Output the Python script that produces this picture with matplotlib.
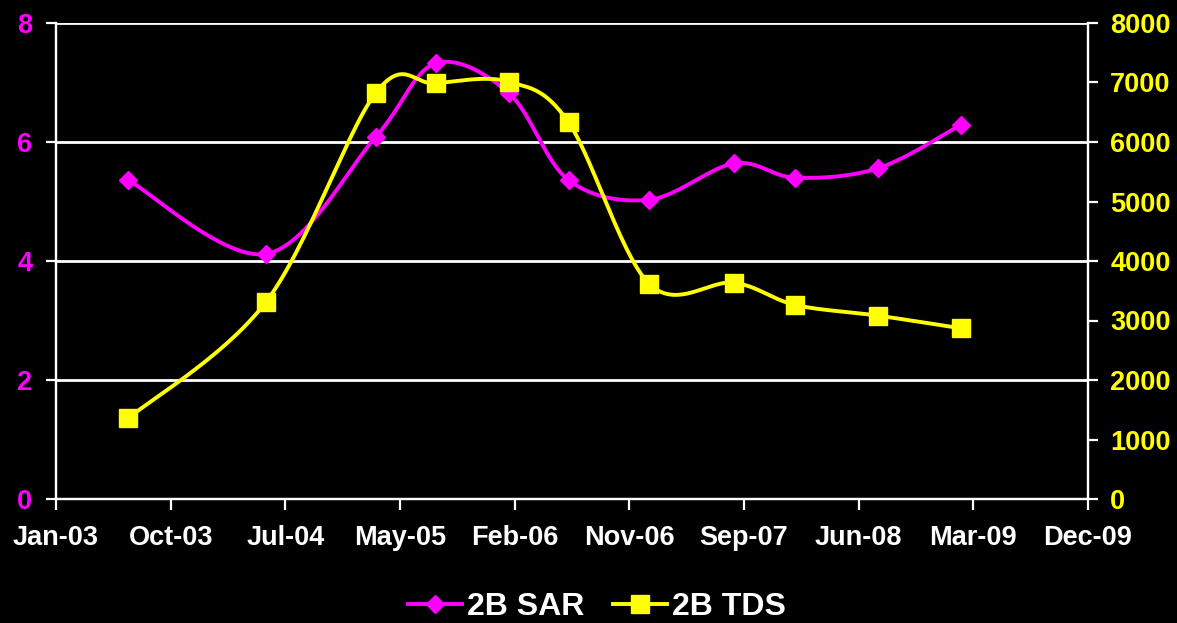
import datetime as dt
import numpy as np
import matplotlib
matplotlib.use("Agg")
import matplotlib.pyplot as plt
import matplotlib.dates as mdates

# ---- data ----
sample_dates = ["2003-06-27", "2004-05-30", "2005-02-23", "2005-07-19", "2006-01-15",
                "2006-06-10", "2006-12-25", "2007-07-21", "2007-12-18", "2008-07-08",
                "2009-01-27"]
sar_values = [5.36, 4.12, 6.09, 7.32, 6.82, 5.36, 5.03, 5.64, 5.40, 5.56, 6.29]
tds_values = [1356, 3316, 6829, 6987, 7013, 6331, 3613, 3635, 3261, 3081, 2869]
x_tick_labels = ["Jan-03", "Oct-03", "Jul-04", "May-05", "Feb-06", "Nov-06",
                 "Sep-07", "Jun-08", "Mar-09", "Dec-09"]
left_ticks = [0, 2, 4, 6, 8]
right_ticks = [0, 1000, 2000, 3000, 4000, 5000, 6000, 7000, 8000]
series_names = ["2B SAR", "2B TDS"]

MAG = "#FF00FF"
YEL = "#FFFF00"
FONT = "Liberation Sans"

x_num = mdates.date2num([dt.datetime.strptime(d, "%Y-%m-%d") for d in sample_dates])
start = mdates.date2num(dt.datetime(2003, 1, 1))
step = 281.0
tick_pos = [start + step * i for i in range(len(x_tick_labels))]


def smooth(x, y, n=30):
    """Excel-like smoothed line: cubic Bezier through points (Catmull-Rom control points)."""
    x = np.asarray(x, float)
    y = np.asarray(y, float)
    P = np.column_stack([x, y])
    out = [P[0]]
    t = np.linspace(0, 1, n)[1:]
    for i in range(len(P) - 1):
        p0 = P[i - 1] if i > 0 else P[i]
        p1 = P[i]
        p2 = P[i + 1]
        p3 = P[i + 2] if i + 2 < len(P) else P[i + 1]
        c1 = p1 + (p2 - p0) / 6.0
        c2 = p2 - (p3 - p1) / 6.0
        seg = ((1 - t) ** 3)[:, None] * p1 + (3 * (1 - t) ** 2 * t)[:, None] * c1 + \
              (3 * (1 - t) * t ** 2)[:, None] * c2 + (t ** 3)[:, None] * p2
        out.extend(seg)
    out = np.array(out)
    return out[:, 0], out[:, 1]


fig = plt.figure(figsize=(11.77, 6.23), dpi=100, facecolor="black")
ax1 = fig.add_axes([56 / 1177, 1 - 499 / 623, (1088 - 56) / 1177, (499 - 23) / 623])
ax1.set_facecolor("black")
ax2 = ax1.twinx()

# SAR
sx, sy = smooth(x_num, sar_values)
ax1.plot(sx, sy, color=MAG, lw=2.8, solid_capstyle="round", zorder=3)
ax1.plot(x_num, sar_values, ls="none", marker="D", ms=9, color=MAG, zorder=4)

# TDS
tx, ty = smooth(x_num, tds_values)
ax2.plot(tx, ty, color=YEL, lw=2.8, solid_capstyle="round", zorder=3)
ax2.plot(x_num, tds_values, ls="none", marker="s", ms=13, color=YEL, zorder=4)

ax1.set_xlim(tick_pos[0], tick_pos[-1])
ax1.set_ylim(0, 8)
ax2.set_ylim(0, 8000)

ax1.set_xticks(tick_pos)
ax1.set_xticklabels(x_tick_labels)
ax1.set_yticks(left_ticks)
ax1.set_yticklabels([str(v) for v in left_ticks])
ax2.set_yticks(right_ticks)
ax2.set_yticklabels([str(v) for v in right_ticks])

ax1.grid(axis="y", color="white", lw=2)
ax1.set_axisbelow(True)

for ax in (ax1, ax2):
    ax.spines["top"].set_visible(False)
    for side in ("left", "right", "bottom"):
        ax.spines[side].set_color("white")
        ax.spines[side].set_linewidth(1.6)

ax1.tick_params(axis="x", colors="white", length=8, width=1.6, pad=11,
                labelsize=19.5)
ax1.tick_params(axis="y", colors="white", length=7, width=1.6, pad=10,
                labelsize=19.5, labelcolor=MAG)
ax2.tick_params(axis="y", colors="white", length=7, width=1.6, pad=9,
                labelsize=19.5, labelcolor=YEL)
for lab in ax1.get_xticklabels() + ax1.get_yticklabels() + ax2.get_yticklabels():
    lab.set_fontfamily(FONT)
    lab.set_fontweight("bold")
for lab in ax1.get_xticklabels():
    lab.set_color("white")

# legend
h1 = plt.Line2D([], [], color=MAG, lw=2.8, marker="D", ms=9)
h2 = plt.Line2D([], [], color=YEL, lw=2.8, marker="s", ms=13)
leg = fig.legend([h1, h2], series_names, loc="center",
                 bbox_to_anchor=(597 / 1177, 1 - 607 / 623), ncol=2, frameon=False,
                 prop={"family": FONT, "weight": "bold", "size": 23},
                 handlelength=1.7, handletextpad=0.15, columnspacing=0.9)
for t in leg.get_texts():
    t.set_color("white")

fig.savefig("out.png", dpi=100, facecolor="black")
